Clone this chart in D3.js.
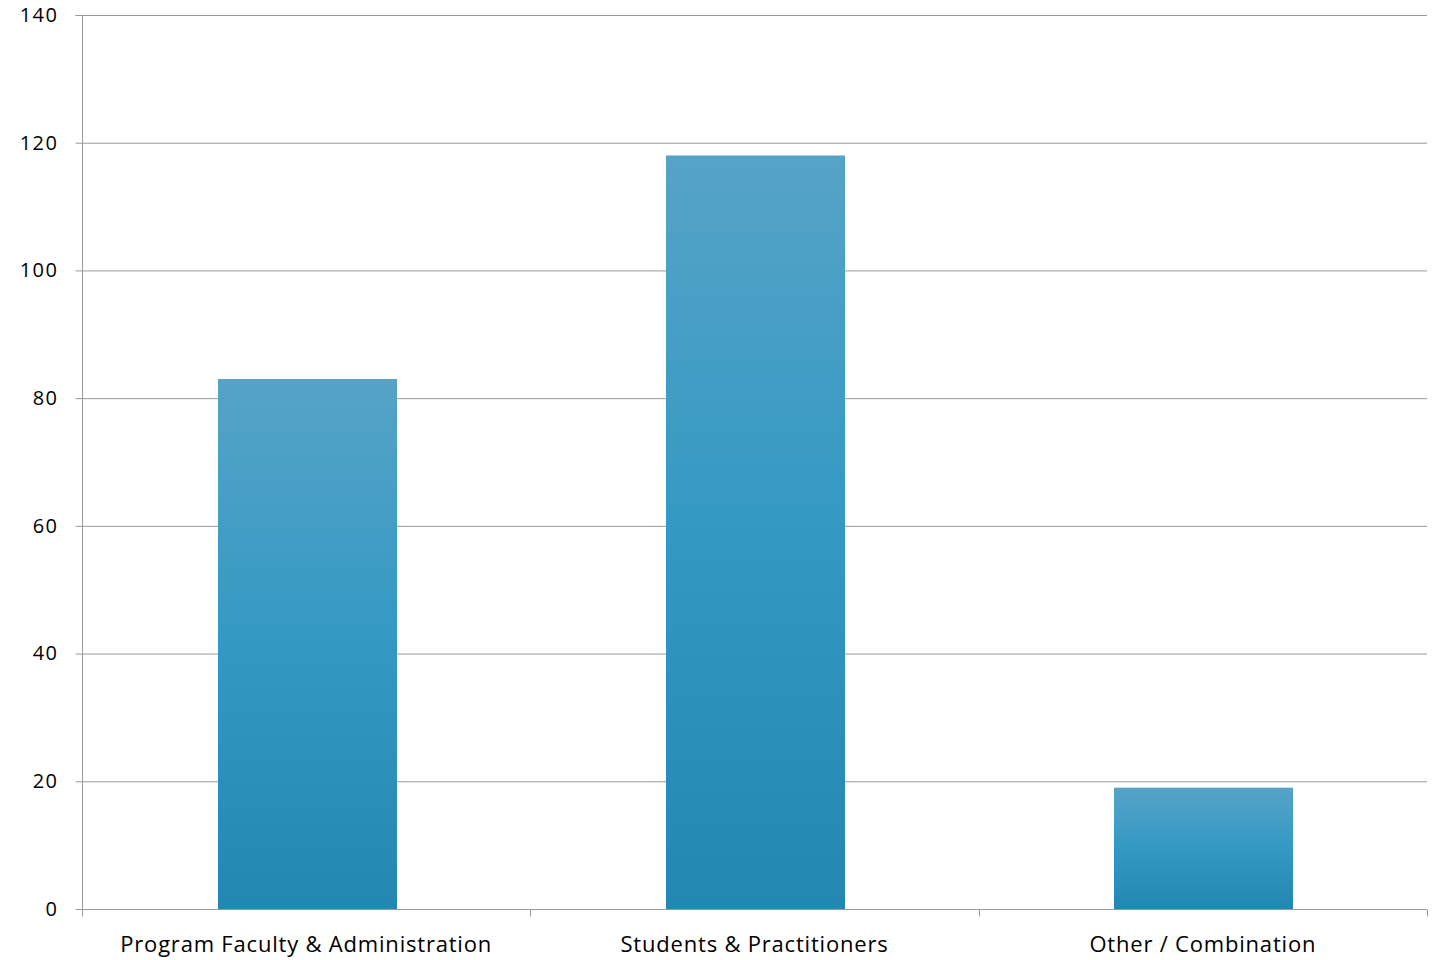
<!DOCTYPE html>
<html><head><meta charset="utf-8">
<script src="https://cdn.jsdelivr.net/npm/d3@7"></script>
<style>body{margin:0;background:#fff;} text{font-family:"Open Sans",Lato,sans-serif;fill:#000;}</style>
</head><body>
<svg id="c" width="1437" height="960"></svg>
<script>
const categories = ["Program Faculty & Administration", "Students & Practitioners", "Other / Combination"];
const values = [83, 118, 19];
const yTicks = [0, 20, 40, 60, 80, 100, 120, 140];

const svg = d3.select("#c");
const m = {l: 82, r: 10, t: 15, b: 51};
const W = 1437, H = 960;
const x = d3.scaleBand().domain(categories).range([m.l, W - m.r]).paddingInner(0.6).paddingOuter(0.3);
const xb = d3.scaleBand().domain(categories).range([m.l, W - m.r]);
const y = d3.scaleLinear().domain([0, 140]).range([H - m.b, m.t]);

const defs = svg.append("defs");
const g = defs.append("linearGradient").attr("id", "bg").attr("x1", 0).attr("y1", 0).attr("x2", 0).attr("y2", 1);
g.append("stop").attr("offset", "0%").attr("stop-color", "#56a3c7");
g.append("stop").attr("offset", "50%").attr("stop-color", "#3399c3");
g.append("stop").attr("offset", "100%").attr("stop-color", "#2287b1");

// gridlines
svg.append("g").selectAll("line").data(yTicks.filter(d => d > 0)).join("line")
  .attr("x1", m.l).attr("x2", W - m.r).attr("y1", d => y(d) + 0.5).attr("y2", d => y(d) + 0.5)
  .attr("stroke", "#9a9a9a").attr("stroke-width", 1);

// bars
svg.append("g").selectAll("rect").data(values).join("rect")
  .attr("x", (d, i) => Math.round(x(categories[i])) + 1)
  .attr("width", Math.round(x.bandwidth()))
  .attr("y", d => y(d))
  .attr("height", d => y(0) - y(d))
  .attr("fill", "url(#bg)");

// y axis
const ya = svg.append("g").attr("transform", `translate(${m.l + 0.5},0)`)
  .call(d3.axisLeft(y).tickValues(yTicks).tickSize(7).tickPadding(17).tickFormat(d3.format("d")));
ya.select(".domain").attr("stroke", "#9a9a9a").attr("d", `M-7,${y(140)+0.5}H0V${y(0)+0.5}`);
ya.selectAll(".tick line").attr("stroke", "#9a9a9a");
ya.selectAll(".tick text").attr("font-size", 20).attr("letter-spacing", 1.5).attr("font-family", "Open Sans, sans-serif").attr("fill", "#000");

// x axis
const xa = svg.append("g").attr("transform", `translate(0,${y(0) + 0.5})`);
xa.append("line").attr("x1", m.l).attr("x2", W - m.r).attr("stroke", "#9a9a9a");
const bounds = [m.l, ...categories.map(c => xb(c) + xb.bandwidth())];
xa.selectAll(".tk").data(bounds).join("line").attr("class", "tk")
  .attr("x1", d => Math.round(d) + 0.5).attr("x2", d => Math.round(d) + 0.5).attr("y1", 0).attr("y2", 7).attr("stroke", "#9a9a9a");
xa.selectAll("text").data(categories).join("text")
  .attr("x", d => xb(d) + xb.bandwidth() / 2).attr("y", 42)
  .attr("text-anchor", "middle").attr("font-size", 22).attr("textLength", null)
  .attr("letter-spacing", 0.8).text(d => d);
</script>
</body></html>
